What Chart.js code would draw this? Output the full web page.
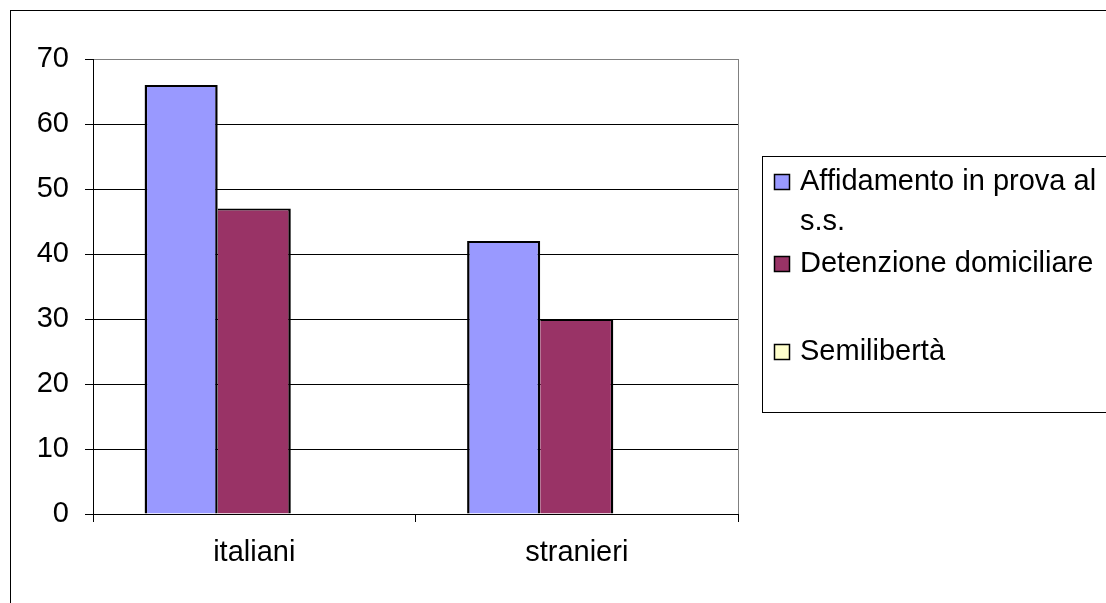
<!DOCTYPE html>
<html>
<head>
<meta charset="utf-8">
<script src="https://cdn.jsdelivr.net/npm/chart.js@4.4.1/dist/chart.umd.min.js"></script>
<style>
  html, body { margin: 0; padding: 0; background: #ffffff; }
  canvas { display: block; }
</style>
</head>
<body>
<canvas id="c" width="1106" height="603"></canvas>
<script>
// Misure alternative alla detenzione: italiani e stranieri
const categories = ["italiani", "stranieri"];
const seriesNames = ["Affidamento in prova al s.s.", "Detenzione domiciliare", "Semilibertà"];
const affidamento = [66, 42];
const detenzione = [47, 30];
const semiliberta = [0, 0];
const yTicks = [0, 10, 20, 30, 40, 50, 60, 70];

const FONT = "'Liberation Sans', Arial, sans-serif";
const colors = ["#9999FF", "#993366", "#FFFFCC"];

// Outer frame, plot-area frame and the boxed legend on the right
const framePlugin = {
  id: 'frame',
  beforeDraw(chart) {
    const ctx = chart.ctx;
    ctx.save();
    ctx.fillStyle = '#ffffff';
    ctx.fillRect(0, 0, chart.width, chart.height);
    ctx.strokeStyle = '#000000';
    ctx.lineWidth = 1;
    ctx.strokeRect(10.5, 10.5, chart.width + 20, chart.height + 20);
    ctx.restore();
  },
  beforeDatasetsDraw(chart) {
    const a = chart.chartArea;
    const ctx = chart.ctx;
    ctx.save();
    ctx.strokeStyle = '#808080';
    ctx.lineWidth = 1;
    ctx.beginPath();
    const x = Math.round(a.right) + 0.5;
    ctx.moveTo(x, a.top);
    ctx.lineTo(x, a.bottom);
    ctx.stroke();
    ctx.restore();
  },
  afterDraw(chart) {
    const ctx = chart.ctx;
    ctx.save();
    // legend box
    ctx.strokeStyle = '#000000';
    ctx.lineWidth = 1;
    ctx.strokeRect(762.5, 156.5, 400, 256);
    ctx.font = '29px ' + FONT;
    ctx.textBaseline = 'middle';
    ctx.textAlign = 'left';
    const rowCenters = [182, 264, 352];
    const lineH = 40;
    const maxW = 315;
    chart.data.datasets.forEach((ds, i) => {
      const cy = rowCenters[i];
      // swatch
      ctx.fillStyle = ds.backgroundColor;
      ctx.fillRect(774.5, cy - 7.5, 15, 15);
      ctx.strokeStyle = '#000000';
      ctx.lineWidth = 1.5;
      ctx.strokeRect(774.5, cy - 7.5, 15, 15);
      // wrapped label
      const words = ds.label.split(' ');
      const lines = [];
      let cur = '';
      words.forEach(w => {
        const t = cur ? cur + ' ' + w : w;
        if (ctx.measureText(t).width > maxW && cur) {
          lines.push(cur);
          cur = w;
        } else {
          cur = t;
        }
      });
      if (cur) lines.push(cur);
      ctx.fillStyle = '#000000';
      lines.forEach((ln, k) => ctx.fillText(ln, 800, cy + k * lineH));
    });
    ctx.restore();
  }
};

const datasets = [affidamento, detenzione, semiliberta].map((vals, i) => ({
  label: seriesNames[i],
  data: vals,
  backgroundColor: colors[i],
  borderColor: '#000000',
  borderWidth: i === 0 ? { top: 2, left: 2.5, right: 2.5, bottom: 0 }
             : i === 1 ? { top: 2, left: 0, right: 2.5, bottom: 0 }
             : 0,
  borderSkipped: false,
  categoryPercentage: 0.68,
  barPercentage: 1.0
}));

new Chart(document.getElementById('c'), {
  type: 'bar',
  data: { labels: categories, datasets },
  options: {
    responsive: false,
    devicePixelRatio: 1,
    animation: false,
    layout: { padding: { left: 0, right: 368, top: 59, bottom: 0 } },
    plugins: {
      legend: { display: false },
      tooltip: { enabled: false }
    },
    scales: {
      x: {
        offset: true,
        grid: {
          display: true,
          offset: true,
          drawOnChartArea: false,
          drawTicks: true,
          tickLength: 8,
          color: '#000000'
        },
        border: { display: true, color: '#000000', width: 1 },
        ticks: {
          color: '#000000',
          font: { family: FONT, size: 29 },
          padding: 14,
          maxRotation: 0
        },
        afterFit(scale) { scale.height = 89; }
      },
      y: {
        min: 0,
        max: 70,
        afterBuildTicks(scale) { scale.ticks = yTicks.map(v => ({ value: v })); },
        grid: {
          color: (c) => (c.tick && c.tick.value === 70 ? '#808080' : '#000000'),
          tickColor: '#000000',
          tickLength: 8,
          lineWidth: 1
        },
        border: { display: true, color: '#000000', width: 1 },
        ticks: {
          color: '#000000',
          font: { family: FONT, size: 29 },
          padding: 16
        },
        afterFit(scale) { scale.width = 93; }
      }
    }
  },
  plugins: [framePlugin]
});
</script>
</body>
</html>
